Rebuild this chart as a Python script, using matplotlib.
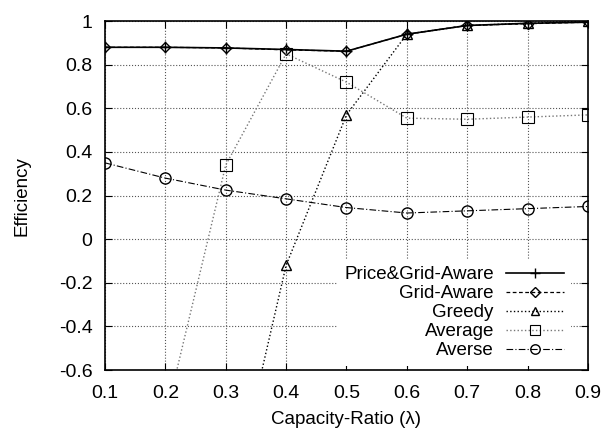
import matplotlib.pyplot as plt

plt.rcParams['font.family'] = ['Liberation Sans', 'DejaVu Sans']

ratio = [0.1, 0.2, 0.3, 0.4, 0.5, 0.6, 0.7, 0.8, 0.9]
price_grid = [0.88, 0.88, 0.877, 0.87, 0.862, 0.94, 0.98, 0.99, 0.995]
grid_aware = [0.88, 0.88, 0.877, 0.868, 0.862, 0.94, 0.98, 0.988, 0.995]
greedy = [-3.5, -2.5, -1.32, -0.12, 0.57, 0.94, 0.98, 0.99, 1.0]
average = [-2.0, -0.82, 0.34, 0.85, 0.72, 0.555, 0.55, 0.56, 0.57]
averse = [0.35, 0.28, 0.225, 0.185, 0.145, 0.12, 0.13, 0.14, 0.15]

fig = plt.figure(figsize=(6.08, 4.32), dpi=100)
ax = fig.add_axes([0.1727, 0.1435, 0.7943, 0.8076])

ax.plot(ratio, price_grid, "-", color="black", marker="+", ms=9, mew=1, lw=1.2,
        label="Price&Grid-Aware")
ax.plot(ratio, grid_aware, "--", color="black", marker="D", ms=5.5, mfc="none", lw=0.9,
        dashes=(3, 2), label="Grid-Aware")
ax.plot(ratio, greedy, ":", color="black", marker="^", ms=7, mfc="none", lw=1,
        label="Greedy")
ax.plot(ratio, average, ":", color="#777777", marker="s", ms=8, mfc="none", mec="black",
        mew=0.8, lw=1, label="Average")
ax.plot(ratio, averse, color="black", marker="o", ms=8, mfc="none", lw=0.8,
        dashes=(6, 2, 1, 2), label="Averse")

ax.set_xlim(0.1, 0.9)
ax.set_ylim(-0.6, 1.0)
ax.set_xticks(ratio)
ax.set_yticks([-0.6, -0.4, -0.2, 0, 0.2, 0.4, 0.6, 0.8, 1.0])
ax.set_yticklabels(["-0.6", "-0.4", "-0.2", "0", "0.2", "0.4", "0.6", "0.8", "1"])
ax.grid(True, linestyle=":", color="#555555", lw=0.8)
ax.tick_params(direction="in", top=True, right=True, labelsize=14, length=5)
ax.tick_params(axis="x", pad=11)
ax.tick_params(axis="y", pad=9)
for s in ax.spines.values():
    s.set_linewidth(1.2)

ax.set_xlabel("Capacity-Ratio (λ)", fontsize=13.5, labelpad=6)
ax.set_ylabel("Efficiency", fontsize=13.5, labelpad=20)

leg = ax.legend(loc="lower right", bbox_to_anchor=(0.964, 0.012), markerfirst=False,
                fontsize=13.5, frameon=True, facecolor="white", edgecolor="none",
                framealpha=1, fancybox=False, handlelength=3.1, labelspacing=0.1,
                borderaxespad=0, borderpad=0.35, handletextpad=0.64, markerscale=0.85)

plt.savefig("out.png", dpi=100)
